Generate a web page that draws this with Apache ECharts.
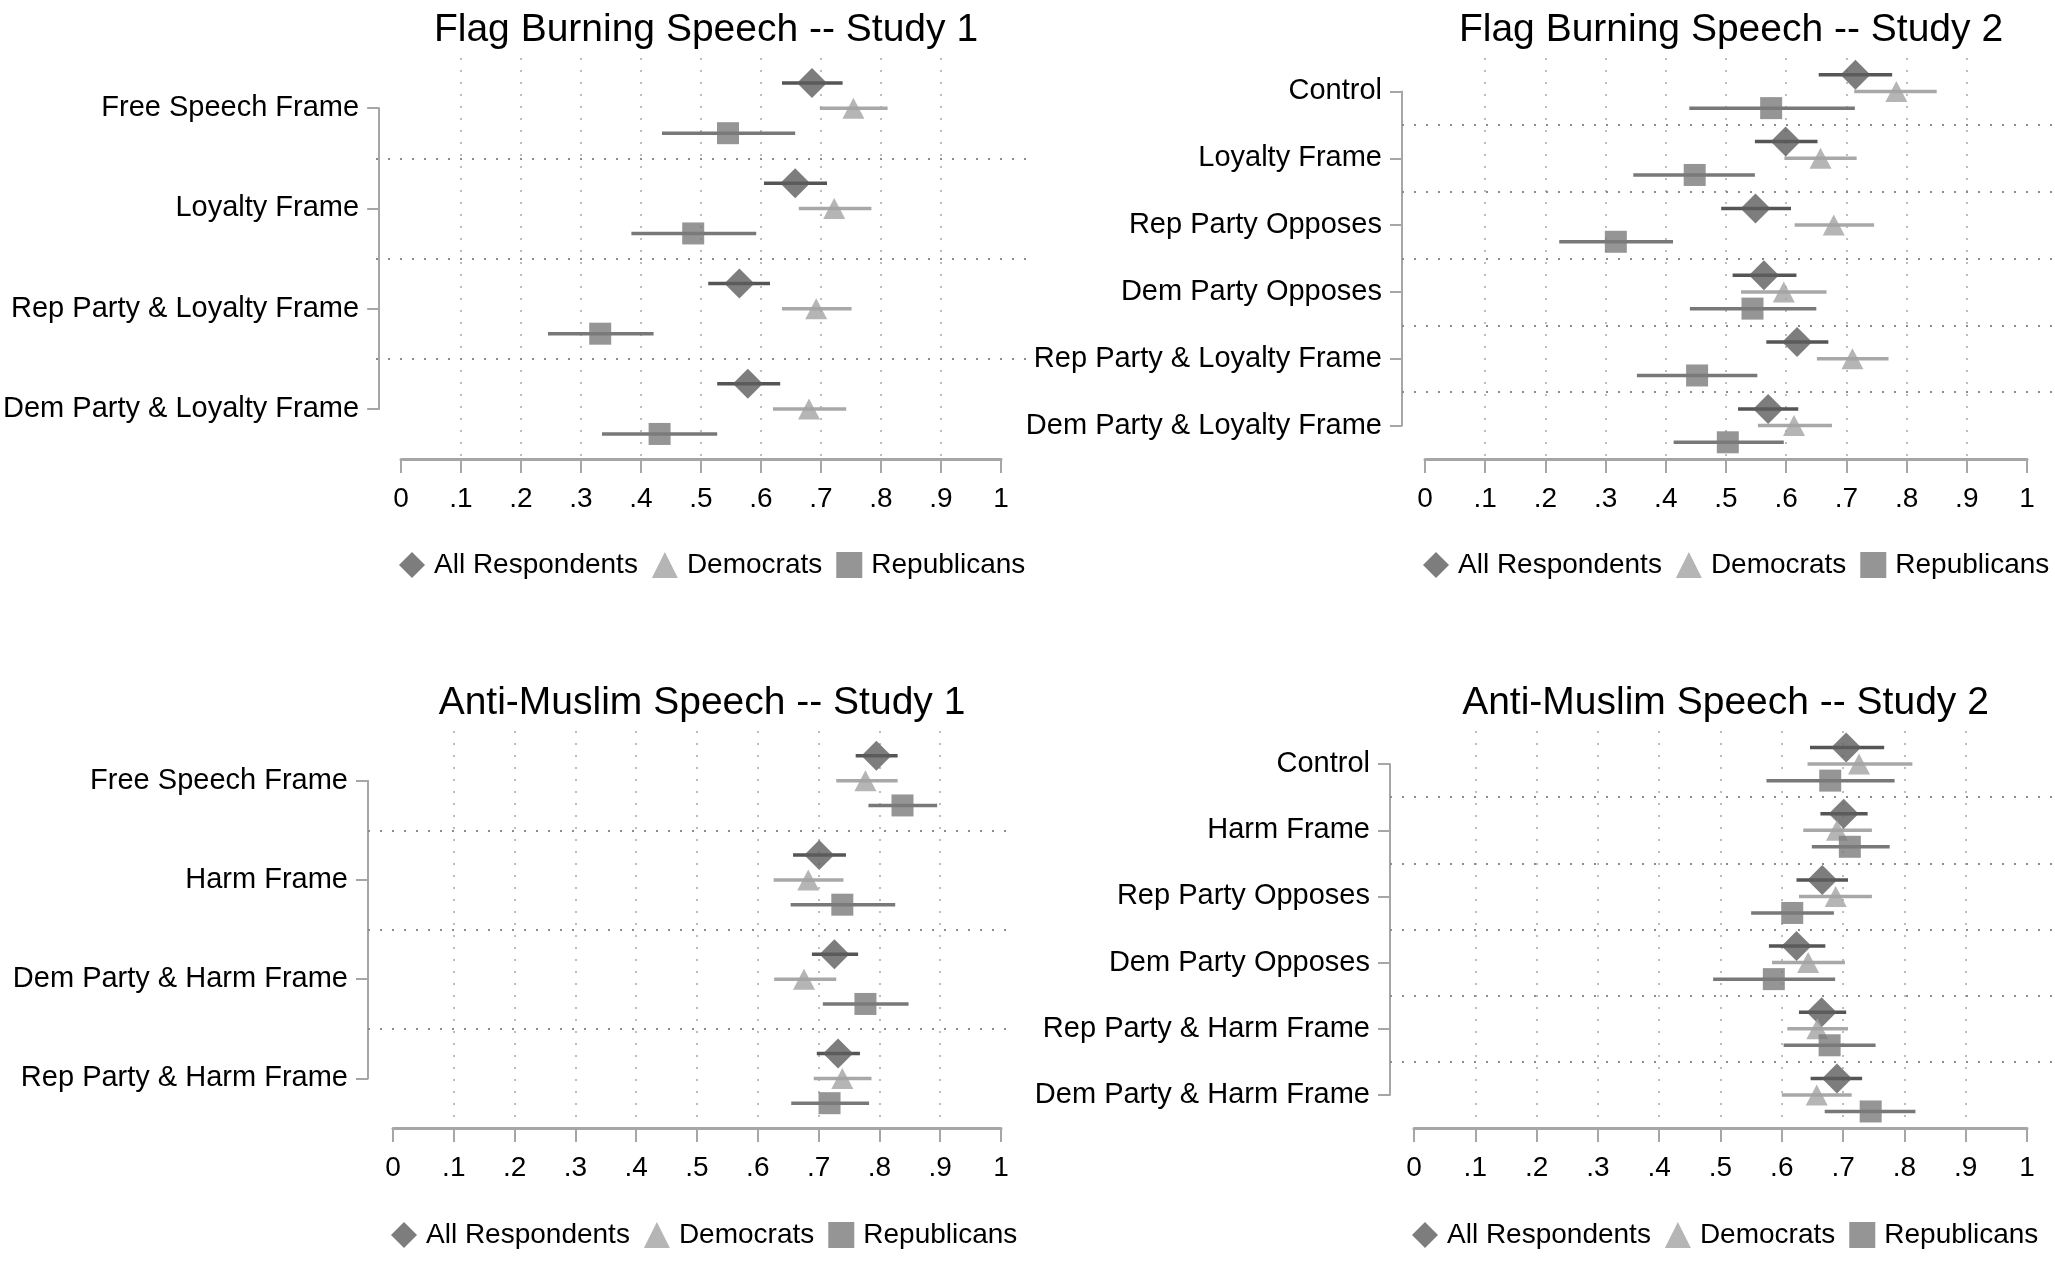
<!DOCTYPE html>
<html>
<head>
<meta charset="utf-8">
<script src="https://cdn.jsdelivr.net/npm/echarts@6/dist/echarts.min.js"></script>
<style>
  html, body { margin: 0; padding: 0; background: #fff; }
  #chart { width: 2055px; height: 1262px; }
</style>
</head>
<body>
<div id="chart"></div>
<script>
// values: [mean, low, high] per category
const fb1Cats = ['Free Speech Frame', 'Loyalty Frame', 'Rep Party & Loyalty Frame', 'Dem Party & Loyalty Frame'];
const fb1All = [[0.685, 0.635, 0.736], [0.657, 0.605, 0.710], [0.564, 0.512, 0.615], [0.578, 0.527, 0.632]];
const fb1Dem = [[0.754, 0.698, 0.811], [0.722, 0.663, 0.784], [0.692, 0.635, 0.751], [0.680, 0.620, 0.742]];
const fb1Rep = [[0.545, 0.435, 0.657], [0.487, 0.384, 0.592], [0.332, 0.245, 0.421], [0.431, 0.335, 0.527]];

const fb2Cats = ['Control', 'Loyalty Frame', 'Rep Party Opposes', 'Dem Party Opposes', 'Rep Party & Loyalty Frame', 'Dem Party & Loyalty Frame'];
const fb2All = [[0.715, 0.654, 0.776], [0.599, 0.548, 0.652], [0.549, 0.492, 0.608], [0.563, 0.511, 0.617], [0.618, 0.567, 0.670], [0.570, 0.520, 0.620]];
const fb2Dem = [[0.783, 0.713, 0.850], [0.657, 0.597, 0.717], [0.679, 0.614, 0.746], [0.596, 0.525, 0.667], [0.710, 0.651, 0.770], [0.613, 0.553, 0.676]];
const fb2Rep = [[0.575, 0.439, 0.714], [0.448, 0.346, 0.548], [0.317, 0.223, 0.412], [0.544, 0.440, 0.650], [0.452, 0.352, 0.552], [0.503, 0.413, 0.596]];

const am1Cats = ['Free Speech Frame', 'Harm Frame', 'Dem Party & Harm Frame', 'Rep Party & Harm Frame'];
const am1All = [[0.795, 0.761, 0.830], [0.701, 0.658, 0.745], [0.726, 0.689, 0.765], [0.732, 0.697, 0.768]];
const am1Dem = [[0.777, 0.729, 0.830], [0.683, 0.626, 0.741], [0.676, 0.627, 0.729], [0.739, 0.692, 0.787]];
const am1Rep = [[0.838, 0.782, 0.895], [0.739, 0.654, 0.826], [0.777, 0.707, 0.848], [0.718, 0.655, 0.783]];

const am2Cats = ['Control', 'Harm Frame', 'Rep Party Opposes', 'Dem Party Opposes', 'Rep Party & Harm Frame', 'Dem Party & Harm Frame'];
const am2All = [[0.705, 0.646, 0.767], [0.701, 0.663, 0.740], [0.666, 0.624, 0.708], [0.624, 0.579, 0.671], [0.665, 0.628, 0.705], [0.690, 0.647, 0.731]];
const am2Dem = [[0.726, 0.642, 0.813], [0.690, 0.635, 0.747], [0.688, 0.628, 0.747], [0.643, 0.584, 0.703], [0.658, 0.609, 0.708], [0.657, 0.600, 0.714]];
const am2Rep = [[0.679, 0.575, 0.784], [0.711, 0.649, 0.776], [0.617, 0.550, 0.685], [0.587, 0.488, 0.687], [0.678, 0.603, 0.753], [0.745, 0.670, 0.818]];

const groupNames = ['All Respondents', 'Democrats', 'Republicans'];
const tickLabels = ['0', '.1', '.2', '.3', '.4', '.5', '.6', '.7', '.8', '.9', '1'];

const groupStyle = [
  { symbol: 'diamond', size: [30, 30], color: '#5c5c5c', bar: '#555555', off: -0.25 },
  { symbol: 'triangle', size: [22, 21], color: '#a3a3a3', bar: '#a8a8a8', off: 0 },
  { symbol: 'rect', size: [22, 22], color: '#7b7b7b', bar: '#787878', off: 0.25 }
];

const panels = [
  { title: 'Flag Burning Speech -- Study 1', cats: fb1Cats, groups: [fb1All, fb1Dem, fb1Rep],
    x0: 401, x1: 1001, br: 376, right: 1026, top: 58, bottom: 459, titleY: 6, legX: 394, legY: 546 },
  { title: 'Flag Burning Speech -- Study 2', cats: fb2Cats, groups: [fb2All, fb2Dem, fb2Rep],
    x0: 1425, x1: 2027, br: 1402, right: 2052, top: 58, bottom: 459, titleY: 6, legX: 1418, legY: 546 },
  { title: 'Anti-Muslim Speech -- Study 1', cats: am1Cats, groups: [am1All, am1Dem, am1Rep],
    x0: 393, x1: 1001, br: 368, right: 1016, top: 731, bottom: 1128, titleY: 679, legX: 386, legY: 1216 },
  { title: 'Anti-Muslim Speech -- Study 2', cats: am2Cats, groups: [am2All, am2Dem, am2Rep],
    x0: 1414, x1: 2027, br: 1390, right: 2052, top: 731, bottom: 1128, titleY: 679, legX: 1407, legY: 1216 }
];

const font = 'Liberation Sans, Arial, sans-serif';
const grid = [], xAxis = [], yAxis = [], series = [], title = [], legend = [];

panels.forEach(function (p) {
  const n = p.cats.length;
  const gA = grid.length;
  const unit = (p.x1 - p.x0);
  // data grid (wide, to the bracket and right edge)
  grid.push({ left: p.br, width: p.right - p.br, top: p.top, height: p.bottom - p.top });
  xAxis.push({ gridIndex: gA, type: 'value', min: -(p.x0 - p.br) / unit, max: 1 + (p.right - p.x1) / unit, show: false });
  yAxis.push({ gridIndex: gA, type: 'value', inverse: true, min: -0.5, max: n - 0.5, show: false });
  // x axis grid (0..1)
  grid.push({ left: p.x0, width: unit, top: p.top, height: p.bottom - p.top });
  xAxis.push({
    gridIndex: gA + 1, type: 'value', min: 0, max: 1, interval: 0.1,
    axisLine: { show: true, lineStyle: { color: '#a6a6a6', width: 3 } },
    axisTick: { show: true, length: 14, lineStyle: { color: '#a6a6a6', width: 2 } },
    axisLabel: { margin: 26, fontSize: 28, color: '#000', fontFamily: font,
      formatter: function (v) { return tickLabels[Math.round(v * 10)]; } },
    splitLine: { show: true, lineStyle: { type: [2, 10], width: 2,
      color: ['rgba(0,0,0,0)', '#bdbdbd', '#bdbdbd', '#bdbdbd', '#bdbdbd', '#bdbdbd', '#bdbdbd', '#bdbdbd', '#bdbdbd', '#bdbdbd', 'rgba(0,0,0,0)'] } }
  });
  yAxis.push({ gridIndex: gA + 1, type: 'value', show: false });
  // bracket y axis between first and last category
  const band = (p.bottom - p.top) / n;
  grid.push({ left: p.br, width: p.right - p.br, top: p.top + band / 2, height: (p.bottom - p.top) - band });
  xAxis.push({ gridIndex: gA + 2, type: 'value', show: false });
  yAxis.push({
    gridIndex: gA + 2, type: 'category', data: p.cats, inverse: true, boundaryGap: false,
    axisLine: { show: true, lineStyle: { color: '#a6a6a6', width: 2 } },
    axisTick: { show: true, length: 12, lineStyle: { color: '#a6a6a6', width: 2 } },
    axisLabel: { margin: 20, fontSize: 29, color: '#000', fontFamily: font },
    splitLine: { show: false }
  });

  title.push({ text: p.title, left: (p.x0 + p.x1) / 2, top: p.titleY, textAlign: 'center',
    textStyle: { fontSize: 39, fontWeight: 'normal', color: '#000', fontFamily: font } });
  legend.push({ data: groupNames, left: p.legX, top: p.legY, itemGap: 14, itemWidth: 26, itemHeight: 26,
    textStyle: { fontSize: 28, color: '#000', fontFamily: font, padding: [0, 0, 0, 4] } });

  const seps = [];
  for (let i = 0; i < n - 1; i++) seps.push({ yAxis: i + 0.5 });

  p.groups.forEach(function (vals, gi) {
    const st = groupStyle[gi];
    series.push({
      type: 'custom', name: 'ci-' + gi, xAxisIndex: gA, yAxisIndex: gA, z: 2, silent: true,
      data: vals.map(function (v, i) { return [v[1], v[2], i + st.off]; }),
      renderItem: function (params, api) {
        const a = api.coord([api.value(0), api.value(2)]);
        const b = api.coord([api.value(1), api.value(2)]);
        return { type: 'line', shape: { x1: a[0], y1: a[1], x2: b[0], y2: b[1] },
          style: { stroke: st.bar, lineWidth: 3.5 } };
      }
    });
    const s = {
      type: 'scatter', name: groupNames[gi], xAxisIndex: gA, yAxisIndex: gA, z: 3,
      symbol: st.symbol, symbolSize: st.size, itemStyle: { color: st.color },
      data: vals.map(function (v, i) { return [v[0], i + st.off]; })
    };
    if (gi === 0) {
      s.markLine = { silent: true, symbol: 'none', label: { show: false },
        lineStyle: { type: [2, 10], color: '#8c8c8c', width: 2 }, data: seps, animation: false };
    }
    series.push(s);
  });
});

const chart = echarts.init(document.getElementById('chart'));
chart.setOption({
  backgroundColor: '#fff',
  animation: false,
  title: title, legend: legend, grid: grid, xAxis: xAxis, yAxis: yAxis, series: series
});
</script>
</body>
</html>
